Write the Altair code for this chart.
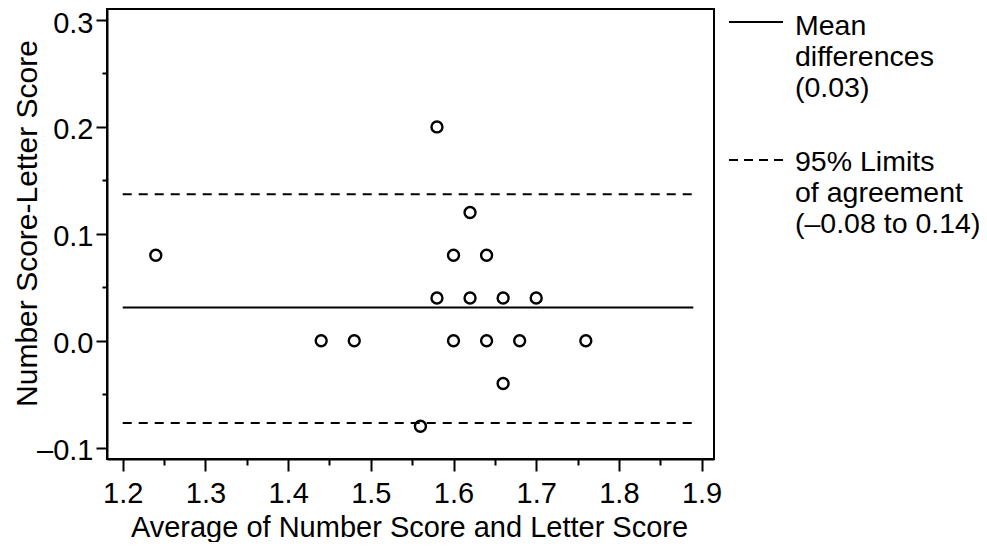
import altair as alt
import pandas as pd

# ---- data ----
avg_scores = [1.58, 1.62, 1.24, 1.60, 1.64, 1.58, 1.62, 1.66, 1.70,
              1.44, 1.48, 1.60, 1.64, 1.68, 1.76, 1.66, 1.56]
diff_scores = [0.20, 0.12, 0.08, 0.08, 0.08, 0.04, 0.04, 0.04, 0.04,
               0.00, 0.00, 0.00, 0.00, 0.00, 0.00, -0.04, -0.08]

mean_diff = 0.031
loa_low = -0.077
loa_high = 0.137
line_start = 1.2
line_end = 1.89

x_ticks = [1.2, 1.25, 1.3, 1.35, 1.4, 1.45, 1.5, 1.55, 1.6, 1.65, 1.7, 1.75, 1.8, 1.85, 1.9]
y_ticks = [-0.1, -0.05, 0.0, 0.05, 0.1, 0.15, 0.2, 0.25, 0.3]

legend_mean = ["Mean", "differences", "(0.03)"]
legend_loa = ["95% Limits", "of agreement", "(\u20130.08 to 0.14)"]

x_title = "Average of Number Score and Letter Score"
y_title = "Number Score-Letter Score"

FONT = "Liberation Sans"
LBL = 29
LEG = 28.5

points = pd.DataFrame({"avg": avg_scores, "diff": diff_scores})
lines = pd.DataFrame({
    "kind": ["mean", "low", "high"],
    "y": [mean_diff, loa_low, loa_high],
    "x": [line_start] * 3,
    "x2": [line_end] * 3,
})
one = pd.DataFrame({"k": [0]})

major_test = "round(datum.value*100) % 10 == 0"

x_scale = alt.Scale(domain=[1.181, 1.915], nice=False, zero=False)
y_scale = alt.Scale(domain=[-0.1106, 0.3103], nice=False, zero=False)

x_axis = alt.Axis(
    values=x_ticks, title=x_title, grid=False,
    labelExpr=f"{major_test} ? format(datum.value, '.1f') : ''",
    tickSize={"condition": {"test": major_test, "value": 12}, "value": 6},
    labelPadding=31, labelBaseline="alphabetic", labelFlush=False, labelOverlap=False,
    titleX=302, titleY=77, titleBaseline="alphabetic", titleAlign="center",
    titleFontSize=29,
)
y_axis = alt.Axis(
    values=y_ticks, title=y_title, grid=False,
    labelExpr=f"{major_test} ? replace(format(datum.value, '.1f'), '\u2212', '\u2013') : ''",
    tickSize={"condition": {"test": major_test, "value": 11}, "value": 5},
    labelPadding=3, labelOffset=3, labelFlush=False, labelOverlap=False,
    titleX=-71, titleY=214, titleAngle=270, titleBaseline="alphabetic", titleAlign="center",
    titleFontSize=30,
)

pts = alt.Chart(points).mark_point(
    shape="circle", filled=False, size=120, strokeWidth=2.4, color="black", opacity=1
).encode(
    x=alt.X("avg:Q", scale=x_scale, axis=x_axis),
    y=alt.Y("diff:Q", scale=y_scale, axis=y_axis),
)

mean_rule = alt.Chart(lines).transform_filter("datum.kind == 'mean'").mark_rule(
    color="black", strokeWidth=2
).encode(x=alt.X("x:Q", scale=x_scale), x2="x2:Q", y=alt.Y("y:Q", scale=y_scale))

loa_rule = alt.Chart(lines).transform_filter("datum.kind != 'mean'").mark_rule(
    color="black", strokeWidth=2, strokeDash=[9, 7]
).encode(x=alt.X("x:Q", scale=x_scale), x2="x2:Q", y=alt.Y("y:Q", scale=y_scale))

leg_line1 = alt.Chart(one).mark_rule(color="black", strokeWidth=2).encode(
    x=alt.value(622), x2=alt.value(676), y=alt.value(13))
leg_line2 = alt.Chart(one).mark_rule(color="black", strokeWidth=2, strokeDash=[9, 6]).encode(
    x=alt.value(622), x2=alt.value(676), y=alt.value(151))
leg_text1 = alt.Chart(one).mark_text(
    align="left", baseline="alphabetic", font=FONT, fontSize=LEG, lineHeight=31, color="black"
).encode(x=alt.value(688), y=alt.value(26), text=alt.value(legend_mean))
leg_text2 = alt.Chart(one).mark_text(
    align="left", baseline="alphabetic", font=FONT, fontSize=LEG, lineHeight=31, color="black"
).encode(x=alt.value(688), y=alt.value(162), text=alt.value(legend_loa))

chart = alt.layer(
    mean_rule, loa_rule, pts, leg_line1, leg_line2, leg_text1, leg_text2
).properties(
    width=607, height=450,
    autosize=alt.AutoSizeParams(type="none"),
    padding={"left": 99, "top": 1, "right": 265, "bottom": 83},
    background="white",
).configure_view(
    stroke="black", strokeWidth=2
).configure_axis(
    domainColor="black", domainWidth=2, tickColor="black", tickWidth=2,
    labelColor="black", titleColor="black", labelFont=FONT, titleFont=FONT,
    labelFontSize=LBL, titleFontWeight="normal",
)

chart.save("out.html", embed_options={"renderer": "svg", "actions": False})
